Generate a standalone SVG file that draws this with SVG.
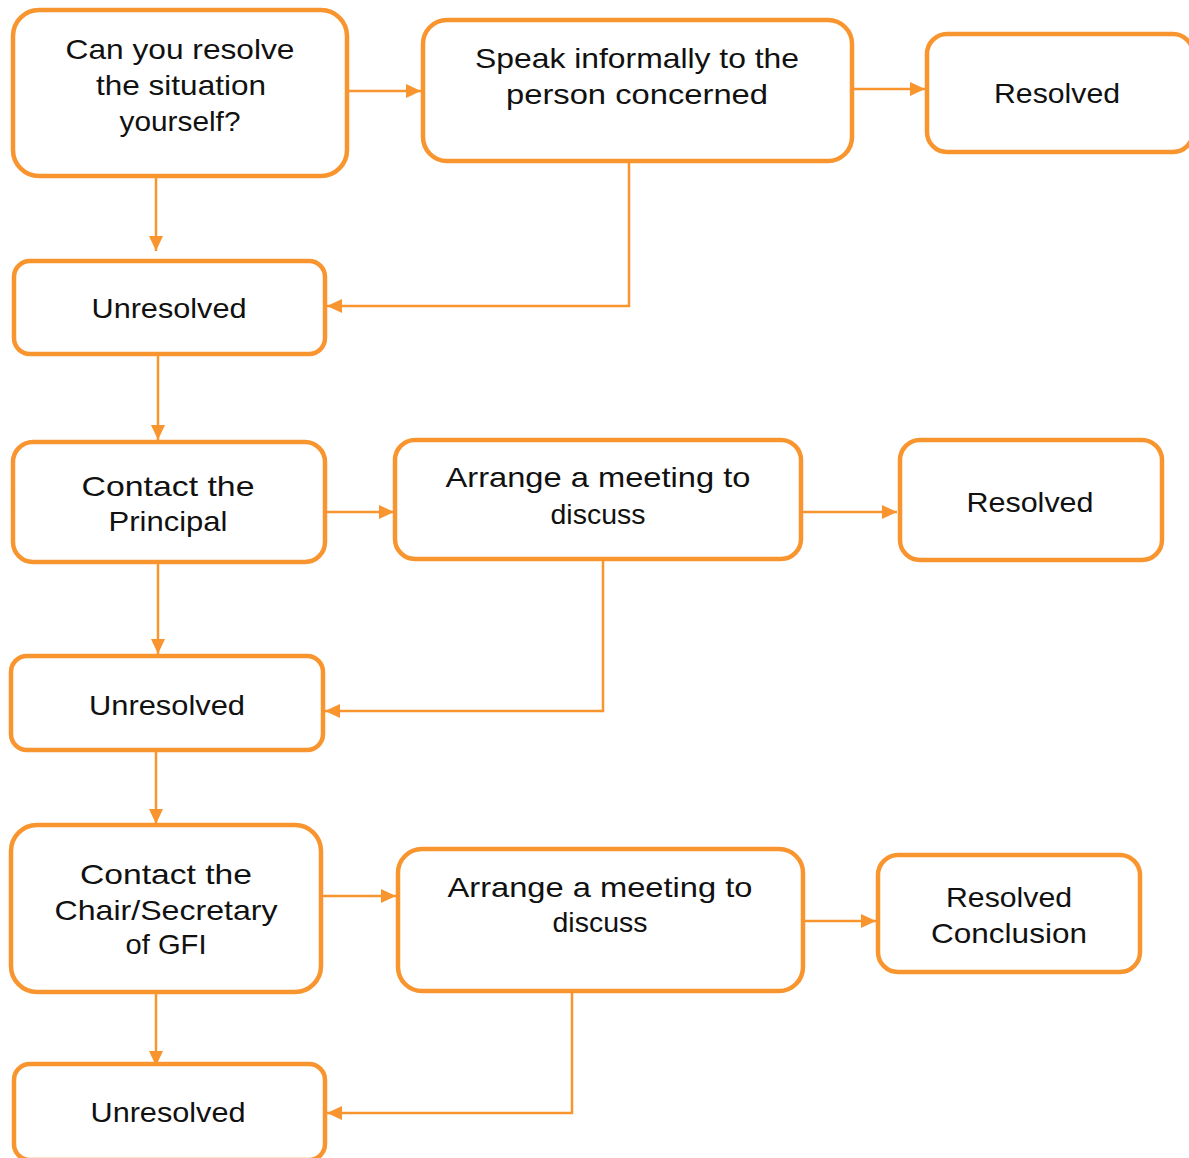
<svg xmlns="http://www.w3.org/2000/svg" width="1189" height="1158" viewBox="0 0 1189 1158">
<style>
.box{fill:#fff;stroke:#F9952F;stroke-width:4.5}
.ln{fill:none;stroke:#F9952F;stroke-width:2.5}
text{font-family:"Liberation Sans",Arial,sans-serif;font-size:28px;fill:#111;text-anchor:middle}
</style>
<defs>
<marker id="ah" markerUnits="userSpaceOnUse" markerWidth="16" markerHeight="14" refX="15" refY="7" orient="auto">
<path d="M0,0 L15,7 L0,14 Z" fill="#F9952F"/>
</marker>
</defs>
<rect width="1189" height="1158" fill="#fff"/>
<g id="connectors">
<path class="ln" d="M349,91 H421" marker-end="url(#ah)"/>
<path class="ln" d="M854,89 H925" marker-end="url(#ah)"/>
<path class="ln" d="M156,178 V251" marker-end="url(#ah)"/>
<path class="ln" d="M629,163 V306 H327" marker-end="url(#ah)"/>
<path class="ln" d="M158,356 V440" marker-end="url(#ah)"/>
<path class="ln" d="M327,512 H394" marker-end="url(#ah)"/>
<path class="ln" d="M803,512 H897" marker-end="url(#ah)"/>
<path class="ln" d="M158,564 V654" marker-end="url(#ah)"/>
<path class="ln" d="M603,561 V711 H325" marker-end="url(#ah)"/>
<path class="ln" d="M156,752 V824" marker-end="url(#ah)"/>
<path class="ln" d="M323,896 H396" marker-end="url(#ah)"/>
<path class="ln" d="M805,921 H876" marker-end="url(#ah)"/>
<path class="ln" d="M156,994 V1066" marker-end="url(#ah)"/>
<path class="ln" d="M572,993 V1113 H327" marker-end="url(#ah)"/>
</g>
<g id="n1"><rect class="box" x="13" y="10" width="334" height="166" rx="26"/>
<text x="180" y="59" textLength="229" lengthAdjust="spacingAndGlyphs">Can you resolve</text>
<text x="181" y="95" textLength="170" lengthAdjust="spacingAndGlyphs">the situation</text>
<text x="180" y="131" textLength="121" lengthAdjust="spacingAndGlyphs">yourself?</text></g>
<g id="n2"><rect class="box" x="423" y="20" width="429" height="141" rx="24"/>
<text x="637" y="68" textLength="324" lengthAdjust="spacingAndGlyphs">Speak informally to the</text>
<text x="637" y="104" textLength="262" lengthAdjust="spacingAndGlyphs">person concerned</text></g>
<g id="n3"><rect class="box" x="927" y="34" width="266" height="118" rx="20"/>
<text x="1057" y="103" textLength="126" lengthAdjust="spacingAndGlyphs">Resolved</text></g>
<g id="n4"><rect class="box" x="14" y="261" width="311" height="93" rx="16"/>
<text x="169" y="318" textLength="155" lengthAdjust="spacingAndGlyphs">Unresolved</text></g>
<g id="n5"><rect class="box" x="13" y="442" width="312" height="120" rx="20"/>
<text x="168" y="496" textLength="173" lengthAdjust="spacingAndGlyphs">Contact the</text>
<text x="168" y="531" textLength="119" lengthAdjust="spacingAndGlyphs">Principal</text></g>
<g id="n6"><rect class="box" x="395" y="440" width="406" height="119" rx="20"/>
<text x="598" y="487" textLength="305" lengthAdjust="spacingAndGlyphs">Arrange a meeting to</text>
<text x="598" y="524" textLength="95" lengthAdjust="spacingAndGlyphs">discuss</text></g>
<g id="n7"><rect class="box" x="900" y="440" width="262" height="120" rx="20"/>
<text x="1030" y="512" textLength="127" lengthAdjust="spacingAndGlyphs">Resolved</text></g>
<g id="n8"><rect class="box" x="11" y="656" width="312" height="94" rx="16"/>
<text x="167" y="715" textLength="156" lengthAdjust="spacingAndGlyphs">Unresolved</text></g>
<g id="n9"><rect class="box" x="11" y="825" width="310" height="167" rx="26"/>
<text x="166" y="884" textLength="172" lengthAdjust="spacingAndGlyphs">Contact the</text>
<text x="166" y="920" textLength="223" lengthAdjust="spacingAndGlyphs">Chair/Secretary</text>
<text x="166" y="954" textLength="81" lengthAdjust="spacingAndGlyphs">of GFI</text></g>
<g id="n10"><rect class="box" x="398" y="849" width="405" height="142" rx="24"/>
<text x="600" y="897" textLength="305" lengthAdjust="spacingAndGlyphs">Arrange a meeting to</text>
<text x="600" y="932" textLength="95" lengthAdjust="spacingAndGlyphs">discuss</text></g>
<g id="n11"><rect class="box" x="878" y="855" width="262" height="117" rx="20"/>
<text x="1009" y="907" textLength="126" lengthAdjust="spacingAndGlyphs">Resolved</text>
<text x="1009" y="943" textLength="156" lengthAdjust="spacingAndGlyphs">Conclusion</text></g>
<g id="n12"><rect class="box" x="14" y="1064" width="311" height="96" rx="16"/>
<text x="168" y="1122" textLength="155" lengthAdjust="spacingAndGlyphs">Unresolved</text></g>
</svg>
